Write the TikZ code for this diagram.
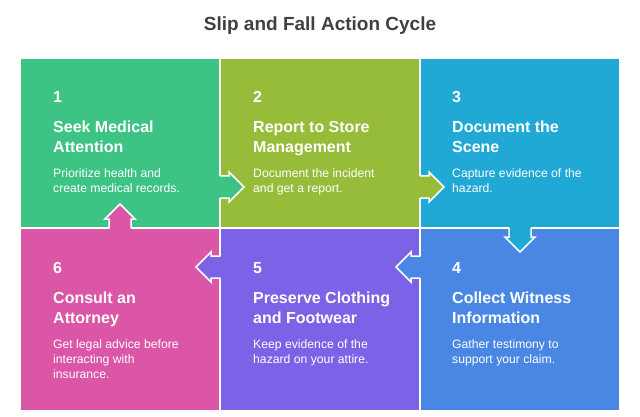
\documentclass[tikz,border=0pt]{standalone}
\usepackage{fontspec}
\setmainfont{Liberation Sans}
\usetikzlibrary{calc}
\definecolor{cA}{HTML}{3DC383}
\definecolor{cB}{HTML}{97BC3A}
\definecolor{cC}{HTML}{21A9D6}
\definecolor{cD}{HTML}{4A87E5}
\definecolor{cE}{HTML}{7B62E6}
\definecolor{cF}{HTML}{DC56A8}
\definecolor{ttlgray}{HTML}{404040}
\newcommand{\cardlines}[1]{\begin{tabular}[t]{@{}l@{}}#1\end{tabular}}
\begin{document}
\begin{tikzpicture}[x=1pt,y=-1pt,
  box/.style={rectangle,draw=white,line width=2pt,inner sep=0pt,outer sep=0pt,minimum width=200pt},
  toprow/.style={minimum height=170pt},
  botrow/.style={minimum height=183pt},
  num/.style={anchor=base west,text=white,inner sep=0pt,font=\fontsize{16}{20}\selectfont\bfseries},
  ttl/.style={anchor=base west,text=white,inner sep=0pt,font=\fontsize{16}{20}\selectfont\bfseries},
  dsc/.style={anchor=base west,text=white,inner sep=0pt,font=\fontsize{12.2}{15}\selectfont},
  maintitle/.style={anchor=base,text=ttlgray,inner sep=0pt,font=\fontsize{19}{22}\selectfont\bfseries},
  pics/notch/.style={code={
    \fill[#1] (-4,-11) -- (9,-11) -- (9,-15) -- (24,0) -- (9,15) -- (9,11) -- (-4,11) -- cycle;
    \draw[white,line width=1.5pt,line join=miter] (-0.5,-11) -- (9,-11) -- (9,-15) -- (24,0) -- (9,15) -- (9,11) -- (-0.5,11);
  }}
]
\useasboundingbox (0,0) rectangle (640,417);

\node[maintitle] (title) at (320,31) {Slip and Fall Action Cycle};

\node[box,toprow,fill=cA] (b1) at (120,143) {};
\node[box,toprow,fill=cB] (b2) at (320,143) {};
\node[box,toprow,fill=cC] (b3) at (520,143) {};
\node[box,botrow,fill=cD] (b4) at (520,319.5) {};
\node[box,botrow,fill=cE] (b5) at (320,319.5) {};
\node[box,botrow,fill=cF] (b6) at (120,319.5) {};

% connectors (notched arrows)
\pic at ($(b1.south east)+(0,-41)$) {notch=cA};
\pic at ($(b2.south east)+(0,-41)$) {notch=cB};
\pic[rotate=-90] at (b3.south) {notch=cC};
\pic[rotate=180] at ($(b4.north west)+(0,39)$) {notch=cD};
\pic[rotate=180] at ($(b5.north west)+(0,39)$) {notch=cE};
\pic[rotate=90] at (b6.north) {notch=cF};

% texts
\node[num] (n1) at ($(b1.north west)+(33,45)$) {1};
\node[ttl] (t1) at ($(b1.north west)+(33,75)$) {\cardlines{Seek Medical\\Attention}};
\node[dsc] (d1) at ($(b1.north west)+(33,120)$) {\cardlines{Prioritize health and\\create medical records.}};

\node[num] (n2) at ($(b2.north west)+(33,45)$) {2};
\node[ttl] (t2) at ($(b2.north west)+(33,75)$) {\cardlines{Report to Store\\Management}};
\node[dsc] (d2) at ($(b2.north west)+(33,120)$) {\cardlines{Document the incident\\and get a report.}};

\node[num] (n3) at ($(b3.north west)+(32,45)$) {3};
\node[ttl] (t3) at ($(b3.north west)+(32,75)$) {\cardlines{Document the\\Scene}};
\node[dsc] (d3) at ($(b3.north west)+(32,120)$) {\cardlines{Capture evidence of the\\hazard.}};

\node[num] (n4) at ($(b4.north west)+(32,45)$) {4};
\node[ttl] (t4) at ($(b4.north west)+(32,75)$) {\cardlines{Collect Witness\\Information}};
\node[dsc] (d4) at ($(b4.north west)+(32,120)$) {\cardlines{Gather testimony to\\support your claim.}};

\node[num] (n5) at ($(b5.north west)+(33,45)$) {5};
\node[ttl] (t5) at ($(b5.north west)+(33,75)$) {\cardlines{Preserve Clothing\\and Footwear}};
\node[dsc] (d5) at ($(b5.north west)+(33,120)$) {\cardlines{Keep evidence of the\\hazard on your attire.}};

\node[num] (n6) at ($(b6.north west)+(33,45)$) {6};
\node[ttl] (t6) at ($(b6.north west)+(33,75)$) {\cardlines{Consult an\\Attorney}};
\node[dsc] (d6) at ($(b6.north west)+(33,120)$) {\cardlines{Get legal advice before\\interacting with\\insurance.}};
\end{tikzpicture}
\end{document}
